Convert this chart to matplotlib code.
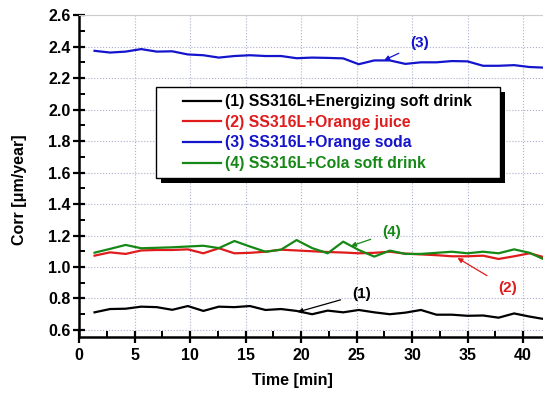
import matplotlib
matplotlib.use("Agg")
import matplotlib.pyplot as plt
from matplotlib.ticker import MultipleLocator
from matplotlib.patches import Rectangle

plt.rcParams['font.family'] = ['Liberation Sans', 'DejaVu Sans']
plt.rcParams['font.weight'] = 'bold'

time_min = [1.4 * k for k in range(1, 31)]

energizing = [0.712, 0.733, 0.735, 0.748, 0.745, 0.728, 0.752, 0.721, 0.748, 0.745,
              0.752, 0.727, 0.733, 0.721, 0.700, 0.723, 0.712, 0.727, 0.712, 0.700,
              0.710, 0.727, 0.697, 0.697, 0.690, 0.692, 0.678, 0.705, 0.685, 0.668]
orange_juice = [1.072, 1.093, 1.083, 1.105, 1.108, 1.108, 1.112, 1.087, 1.119, 1.087,
                1.090, 1.097, 1.110, 1.105, 1.100, 1.095, 1.092, 1.087, 1.090, 1.097,
                1.085, 1.080, 1.075, 1.068, 1.068, 1.072, 1.051, 1.068, 1.087, 1.060]
orange_soda = [2.373, 2.362, 2.368, 2.384, 2.368, 2.370, 2.350, 2.345, 2.330, 2.340,
               2.345, 2.340, 2.340, 2.326, 2.330, 2.328, 2.325, 2.288, 2.312, 2.312,
               2.290, 2.300, 2.300, 2.308, 2.306, 2.278, 2.278, 2.282, 2.270, 2.266]
cola = [1.091, 1.115, 1.140, 1.119, 1.122, 1.125, 1.130, 1.135, 1.120, 1.165,
        1.130, 1.097, 1.110, 1.171, 1.120, 1.087, 1.161, 1.108, 1.066, 1.104,
        1.083, 1.083, 1.090, 1.097, 1.087, 1.097, 1.087, 1.112, 1.090, 1.045]

labels = ["(1) SS316L+Energizing soft drink", "(2) SS316L+Orange juice",
          "(3) SS316L+Orange soda", "(4) SS316L+Cola soft drink"]
colors = ["#000000", "#e01b1b", "#1414cc", "#168816"]
series = [energizing, orange_juice, orange_soda, cola]
yticks = [0.6, 0.8, 1.0, 1.2, 1.4, 1.6, 1.8, 2.0, 2.2, 2.4, 2.6]
ytick_labels = ["0.6", "0.8", "1.0", "1.2", "1.4", "1.6", "1.8", "2.0", "2.2", "2.4", "2.6"]

fig = plt.figure(figsize=(5.43, 3.97), dpi=100)
ax = fig.add_axes([0.1455, 0.151, 0.8545, 0.811])

for vals, lab, c in zip(series, labels, colors):
    ax.plot(time_min, vals, color=c, lw=1.6, label=lab, zorder=3)

ax.set_xlim(0, 41.8)
ax.set_ylim(0.555, 2.6)
ax.xaxis.set_major_locator(MultipleLocator(5))
ax.xaxis.set_minor_locator(MultipleLocator(2.5))
ax.set_yticks(yticks)
ax.set_yticklabels(ytick_labels)
ax.yaxis.set_minor_locator(MultipleLocator(0.1))

ax.tick_params(which='major', direction='inout', length=8, width=1.6, labelsize=11.5)
ax.tick_params(axis='x', which='major', pad=4)
ax.tick_params(axis='y', which='major', pad=2)
ax.tick_params(which='minor', direction='in', length=4, width=1.4)
for lbl in ax.get_xticklabels() + ax.get_yticklabels():
    lbl.set_fontweight('bold')

ax.grid(True, which='major', color='#aab0d0', linestyle=':', linewidth=0.8)
ax.spines['left'].set_linewidth(1.8)
ax.spines['bottom'].set_linewidth(1.8)
ax.spines['top'].set_color('#cccccc')
ax.spines['top'].set_linewidth(0.8)
ax.spines['right'].set_visible(False)

ax.set_xlabel("Time [min]", fontsize=11.5, fontweight='bold')
ax.set_ylabel("Corr [\u03bcm/year]", fontsize=11.5, fontweight='bold')
ax.xaxis.set_label_coords(0.459, -0.112)
ax.yaxis.set_label_coords(-0.112, 0.457)

# legend box with solid black shadow
W, H = 464.0, 322.0
bx0, bx1 = (156 - 79) / W, (500 - 79) / W
by0, by1 = (337 - 178) / H, (337 - 87) / H
ax.add_patch(Rectangle((bx0 + 5 / W, by0 - 5 / H), bx1 - bx0, by1 - by0,
                       transform=ax.transAxes, facecolor='black', edgecolor='black',
                       lw=0, zorder=5))
ax.add_patch(Rectangle((bx0, by0), bx1 - bx0, by1 - by0,
                       transform=ax.transAxes, facecolor='white', edgecolor='black',
                       lw=1.0, zorder=6))

leg = ax.legend(loc='upper left', bbox_to_anchor=((183 - 79) / W, (337 - 94) / H),
                borderaxespad=0, borderpad=0, frameon=False,
                fontsize=11.3, handlelength=2.45, handletextpad=0.25, labelspacing=0.36)
leg.set_zorder(7)
for t, c in zip(leg.get_texts(), colors):
    t.set_color(c)
    t.set_fontweight('bold')

ann = [("(3)", (27.5, 2.314), (30.7, 2.42), colors[2]),
       ("(4)", (24.5, 1.133), (28.2, 1.222), colors[3]),
       ("(2)", (34.1, 1.057), (38.6, 0.867), colors[1]),
       ("(1)", (19.7, 0.714), (25.5, 0.83), colors[0])]
for txt, xy, xyt, c in ann:
    ax.annotate(txt, xy=xy, xytext=xyt, color=c, fontsize=11, fontweight='bold',
                ha='center', va='center', zorder=4,
                arrowprops=dict(arrowstyle='-|>', color=c, lw=0.9, mutation_scale=7,
                                shrinkA=7, shrinkB=0))

fig.savefig("out.png", dpi=100)
